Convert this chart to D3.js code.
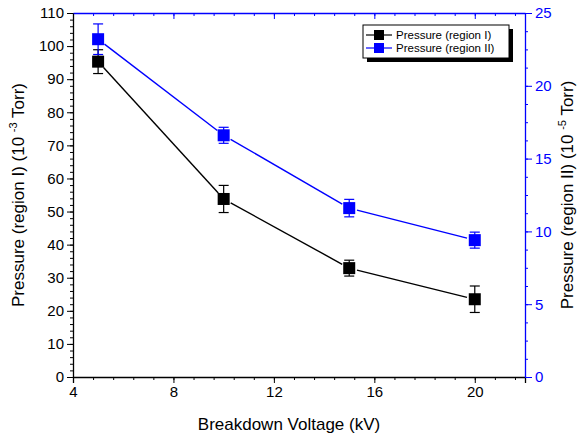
<!DOCTYPE html>
<html>
<head>
<meta charset="utf-8">
<script src="https://cdn.jsdelivr.net/npm/d3@7"></script>
<style>
  body { margin: 0; background: #fff; }
  text { font-family: "Liberation Sans", Arial, sans-serif; }
</style>
</head>
<body>
<div id="chart-area"></div>
<script>
// data
var voltage = [5, 10, 15, 20];
var pressure1 = [95.3, 53.8, 32.9, 23.5];
var err1 = [3.6, 4.1, 2.4, 4.0];
var pressure2 = [23.2, 16.6, 11.6, 9.4];
var err2 = [1.05, 0.55, 0.6, 0.55];
var seriesNames = ["Pressure (region I)", "Pressure (region II)"];

var W = 579, H = 439;
var margin = {left: 73, right: 54, top: 13, bottom: 62};
var width = W - margin.left - margin.right,
	height = H - margin.top - margin.bottom;

var svg = d3.select("#chart-area").append("svg")
	.attr("width", W).attr("height", H);
var g = svg.append("g")
	.attr("transform", "translate(" + margin.left + "," + margin.top + ")");

//scales
var x = d3.scaleLinear().domain([4, 22]).range([0, width]);
var yL = d3.scaleLinear().domain([0, 110]).range([height, 0]);
var yR = d3.scaleLinear().domain([0, 25]).range([height, 0]);

var BLUE = "#0000ff";

// x axis bottom: major every 4, minor every 0.8
g.append("g")
	.attr("transform", "translate(0," + height + ")")
	.call(d3.axisBottom(x).tickValues(d3.range(4, 22.01, 0.8)).tickSize(3).tickFormat(""))
	.call(function(a){ a.select(".domain").remove(); });
g.append("g")
	.attr("class", "xaxis")
	.attr("transform", "translate(0," + height + ")")
	.call(d3.axisBottom(x).tickValues([4, 8, 12, 16, 20]).tickSize(6).tickPadding(3));

// top axis (blue), ticks inward
g.append("g")
	.call(d3.axisTop(x).tickValues(d3.range(4, 22.01, 0.8)).tickSize(-3).tickFormat(""))
	.call(function(a){ a.select(".domain").remove(); })
	.selectAll("line").attr("stroke", BLUE);
g.append("g")
	.call(d3.axisTop(x).tickValues([4, 8, 12, 16, 20]).tickSize(-6).tickFormat("").tickSizeOuter(0))
	.call(function(a){ a.select(".domain").attr("stroke", BLUE).attr("stroke-width", 1.3); a.selectAll("line").attr("stroke", BLUE); });

// left axis
g.append("g")
	.call(d3.axisLeft(yL).tickValues(d3.range(0, 110.1, 2)).tickSize(3).tickFormat(""))
	.call(function(a){ a.select(".domain").remove(); });
g.append("g")
	.attr("class", "yaxis")
	.call(d3.axisLeft(yL).tickValues(d3.range(0, 111, 10)).tickSize(6).tickPadding(3).tickSizeOuter(0));

// right axis (blue)
g.append("g")
	.attr("transform", "translate(" + width + ",0)")
	.call(d3.axisRight(yR).tickValues(d3.range(0, 25.01, 1.25)).tickSize(3).tickFormat(""))
	.call(function(a){ a.select(".domain").remove(); })
	.selectAll("line").attr("stroke", BLUE);
g.append("g")
	.attr("class", "raxis")
	.attr("transform", "translate(" + width + ",0)")
	.call(d3.axisRight(yR).tickValues([0, 5, 10, 15, 20, 25]).tickSize(7).tickPadding(3).tickSizeOuter(0))
	.call(function(a){
		a.select(".domain").attr("stroke", BLUE).attr("stroke-width", 1.3);
		a.selectAll("line").attr("stroke", BLUE);
		a.selectAll("text").attr("fill", BLUE);
	});

g.selectAll(".xaxis text, .yaxis text, .raxis text").attr("font-size", 15)
	.attr("font-family", "Liberation Sans, Arial, sans-serif");
g.selectAll(".xaxis .domain, .yaxis .domain").attr("stroke-width", 1.3);

// axis labels
svg.append("text")
	.attr("x", margin.left + width / 2 - 10).attr("y", 430)
	.attr("text-anchor", "middle").attr("font-size", 17)
	.text("Breakdown Voltage (kV)");

var lab1 = svg.append("text")
	.attr("transform", "translate(24," + (margin.top + height / 2) + ") rotate(-90)")
	.attr("text-anchor", "middle").attr("font-size", 17);
lab1.append("tspan").text("Pressure (region I) (10 ");
lab1.append("tspan").attr("font-size", 11).attr("dy", -7).text("-3");
lab1.append("tspan").attr("dy", 7).text(" Torr)");

var lab2 = svg.append("text")
	.attr("transform", "translate(573," + (margin.top + height / 2) + ") rotate(-90)")
	.attr("text-anchor", "middle").attr("font-size", 17);
lab2.append("tspan").text("Pressure (region II) (10 ");
lab2.append("tspan").attr("font-size", 11).attr("dy", -7).text("-5");
lab2.append("tspan").attr("dy", 7).text(" Torr)");

// series
function drawSeries(vals, errs, yScale, color) {
	var pts = voltage.map(function(v, i){ return [x(v), yScale(vals[i])]; });
	var gap = 8;
	for (var i = 0; i < pts.length - 1; i++) {
		var a = pts[i], b = pts[i + 1];
		var dx = b[0] - a[0], dy = b[1] - a[1], len = Math.sqrt(dx*dx + dy*dy);
		var ux = dx / len, uy = dy / len;
		g.append("line")
			.attr("x1", a[0] + ux*gap).attr("y1", a[1] + uy*gap)
			.attr("x2", b[0] - ux*gap).attr("y2", b[1] - uy*gap)
			.attr("stroke", color).attr("stroke-width", 1.4);
	}
	voltage.forEach(function(v, i){
		var cx = x(v), top = yScale(vals[i] + errs[i]), bot = yScale(vals[i] - errs[i]);
		g.append("line").attr("x1", cx).attr("x2", cx).attr("y1", top).attr("y2", bot)
			.attr("stroke", color).attr("stroke-width", 1.2);
		[top, bot].forEach(function(yy){
			g.append("line").attr("x1", cx - 5).attr("x2", cx + 5).attr("y1", yy).attr("y2", yy)
				.attr("stroke", color).attr("stroke-width", 1.2);
		});
		g.append("rect").attr("x", cx - 6).attr("y", yScale(vals[i]) - 6)
			.attr("width", 12).attr("height", 12).attr("fill", color);
	});
}
drawSeries(pressure1, err1, yL, "#000");
drawSeries(pressure2, err2, yR, BLUE);

// legend
var legend = svg.append("g").attr("transform", "translate(363,25)");
legend.append("rect").attr("x", 4).attr("y", 4).attr("width", 146).attr("height", 33).attr("fill", "#000");
legend.append("rect").attr("x", 0).attr("y", 0).attr("width", 146).attr("height", 33)
	.attr("fill", "#fff").attr("stroke", "#000").attr("stroke-width", 1);
[["#000", seriesNames[0]], [BLUE, seriesNames[1]]].forEach(function(d, i){
	var row = legend.append("g").attr("transform", "translate(0," + (10 + i * 13) + ")");
	row.append("line").attr("x1", 3).attr("x2", 29).attr("y1", 0).attr("y2", 0)
		.attr("stroke", d[0]).attr("stroke-width", 1.2);
	row.append("rect").attr("x", 11).attr("y", -5).attr("width", 10).attr("height", 10).attr("fill", d[0]);
	row.append("text").attr("x", 33).attr("y", 4.3).attr("font-size", 11.5).text(d[1]);
});
</script>
</body>
</html>
